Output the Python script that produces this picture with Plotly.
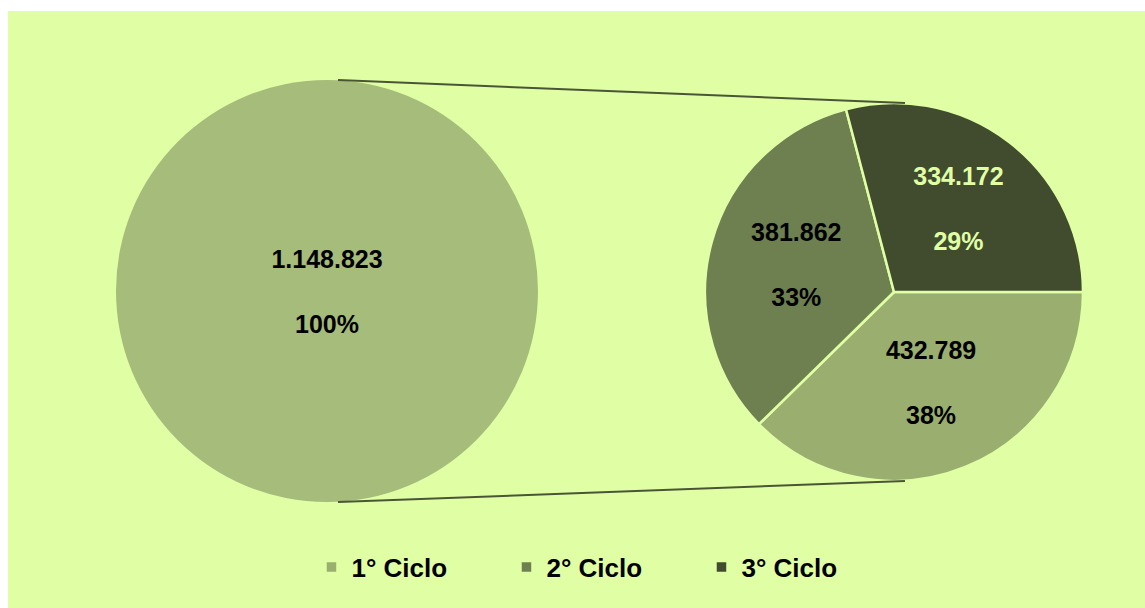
import plotly.graph_objects as go

# ---- data ----
total_labels = ["1° Ciclo"]
total_values = [1148823]
cycle_labels = ["1° Ciclo", "2° Ciclo", "3° Ciclo"]
cycle_values = [432789, 381862, 334172]

# ---- styles ----
W, H = 1145, 608
BG = "#E0FFA5"
left_color = "#A6BC7A"
cycle_colors = ["#9AAF6F", "#6E8050", "#414B2E"]
cycle_text_colors = ["#000000", "#000000", BG]
FONT = "Liberation Sans, Arial, sans-serif"

# pie geometry in pixels (top-left origin)
L_cx, L_cy, L_r = 327, 291, 211
R_cx, R_cy, R_r = 894, 292, 189


def dom(cx, cy, r):
    return dict(x=[(cx - r) / W, (cx + r) / W],
                y=[(H - cy - r) / H, (H - cy + r) / H])


fig = go.Figure()
fig.add_trace(go.Pie(
    labels=total_labels, values=total_values, sort=False,
    domain=dom(L_cx, L_cy, L_r),
    marker=dict(colors=[left_color], line=dict(color=left_color, width=0)),
    texttemplate="<b>%{value:,.0f}</b><br><br><b>%{percent:.0%}</b>",
    textposition="inside", insidetextorientation="horizontal",
    textfont=dict(family=FONT, size=25, color="#000000"),
    showlegend=False, hoverinfo="label+value+percent",
))
fig.add_trace(go.Pie(
    labels=cycle_labels, values=cycle_values, sort=False,
    direction="clockwise", rotation=90,
    domain=dom(R_cx, R_cy, R_r),
    marker=dict(colors=cycle_colors, line=dict(color=BG, width=2.5)),
    texttemplate="<b>%{value:,.0f}</b><br><br><b>%{percent:.0%}</b>",
    textposition="inside", insidetextorientation="horizontal",
    textfont=dict(family=FONT, size=25, color=cycle_text_colors),
    showlegend=True, hoverinfo="label+value+percent",
))

# connector lines between the two pies + white frame strips
off = 11
shapes = [
    dict(type="rect", xref="paper", yref="paper", x0=0, x1=8 / W, y0=0, y1=1,
         fillcolor="white", line=dict(width=0), layer="below"),
    dict(type="rect", xref="paper", yref="paper", x0=0, x1=1, y0=1 - 11 / H, y1=1,
         fillcolor="white", line=dict(width=0), layer="below"),
    dict(type="line", xref="paper", yref="paper",
         x0=(L_cx + off) / W, y0=(H - (L_cy - L_r)) / H,
         x1=(R_cx + off) / W, y1=(H - (R_cy - R_r)) / H,
         line=dict(color="#4A5536", width=2)),
    dict(type="line", xref="paper", yref="paper",
         x0=(L_cx + off) / W, y0=(H - (L_cy + L_r)) / H,
         x1=(R_cx + off) / W, y1=(H - (R_cy + R_r)) / H,
         line=dict(color="#4A5536", width=2)),
]

fig.update_layout(
    width=W, height=H,
    margin=dict(l=0, r=0, t=0, b=0),
    paper_bgcolor=BG, plot_bgcolor=BG,
    separators=",.",
    shapes=shapes,
    font=dict(family=FONT),
    legend=dict(orientation="h", x=0.5275, xanchor="center", y=(H - 567) / H,
                yanchor="middle", bgcolor="rgba(0,0,0,0)",
                font=dict(family=FONT, size=26, color="#000000", weight="bold"),
                entrywidth=150, entrywidthmode="pixels", traceorder="normal"),
)

fig.write_html(
    "out.html",
    config={"displayModeBar": False},
    post_script="document.body.style.margin='0';document.body.style.overflow='hidden';",
)
